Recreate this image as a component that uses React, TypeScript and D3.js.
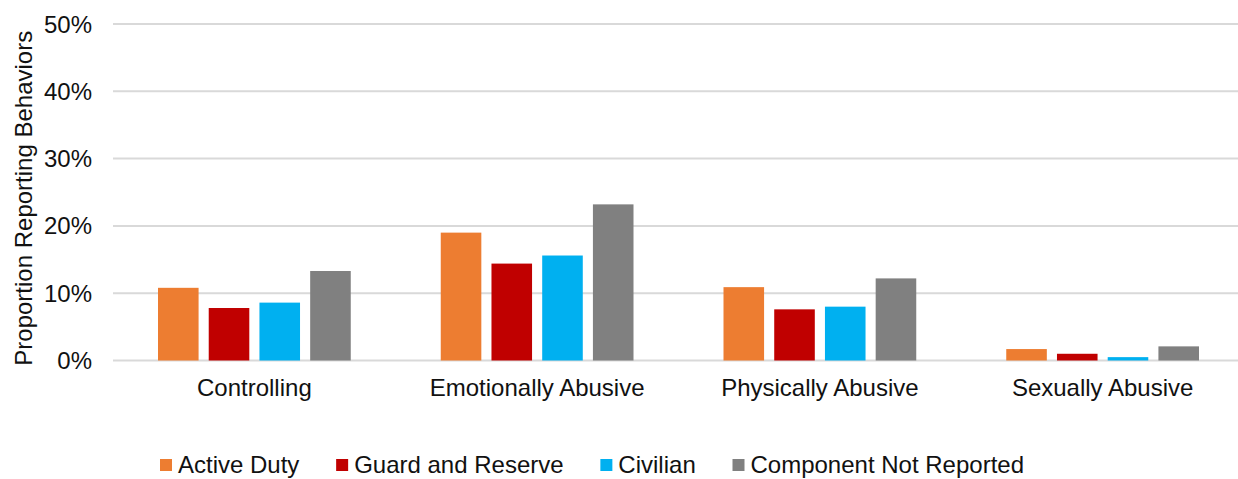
import React, { useEffect, useRef } from "react";
import * as d3 from "d3";

const categories = ["Controlling", "Emotionally Abusive", "Physically Abusive", "Sexually Abusive"];
const seriesNames = ["Active Duty", "Guard and Reserve", "Civilian", "Component Not Reported"];
const seriesColors = ["#ED7D31", "#C00000", "#00B0F0", "#808080"];
const activeDuty = [0.108, 0.190, 0.109, 0.017];
const guardReserve = [0.078, 0.144, 0.076, 0.010];
const civilian = [0.086, 0.156, 0.080, 0.005];
const notReported = [0.133, 0.232, 0.122, 0.021];
const yTicks = [0, 0.1, 0.2, 0.3, 0.4, 0.5];

const W = 1238;
const H = 479;
const FONT = "'Liberation Sans', Arial, sans-serif";

export default function App() {
  const ref = useRef<SVGSVGElement | null>(null);

  useEffect(() => {
    const svg = d3.select(ref.current!);
    svg.selectAll("*").remove();
    const seriesValues = [activeDuty, guardReserve, civilian, notReported];

    const left = 113;
    const right = 1244;
    const top = 24;
    const bottom = 360.5;

    const x0 = d3.scaleBand<string>().domain(categories).range([left, right]);
    const inset = 45;
    const x1 = d3
      .scaleBand<string>()
      .domain(seriesNames)
      .range([inset, x0.bandwidth() - inset])
      .paddingInner(0.2);
    const y = d3.scaleLinear().domain([0, 0.5]).range([bottom, top]);

    // gridlines
    svg
      .append("g")
      .selectAll("line")
      .data(yTicks)
      .join("line")
      .attr("x1", left)
      .attr("x2", right)
      .attr("y1", (d) => y(d))
      .attr("y2", (d) => y(d))
      .attr("stroke", "#d9d9d9")
      .attr("stroke-width", 2);

    // tick labels
    svg
      .append("g")
      .selectAll("text")
      .data(yTicks)
      .join("text")
      .attr("x", 92)
      .attr("y", (d) => y(d) + 8.5)
      .attr("text-anchor", "end")
      .attr("font-family", FONT)
      .attr("font-size", 24)
      .attr("fill", "#111")
      .text((d) => d3.format(".0%")(d));

    // bars
    const groups = svg
      .append("g")
      .selectAll("g")
      .data(categories)
      .join("g")
      .attr("transform", (c) => `translate(${x0(c)},0)`);

    groups
      .selectAll("rect")
      .data((c, i) => seriesNames.map((s, si) => ({ s, si, v: seriesValues[si][categories.indexOf(c)] })))
      .join("rect")
      .attr("x", (d) => x1(d.s)!)
      .attr("width", x1.bandwidth())
      .attr("y", (d) => y(d.v))
      .attr("height", (d) => y(0) - y(d.v))
      .attr("fill", (d) => seriesColors[d.si]);

    // category labels
    svg
      .append("g")
      .selectAll("text")
      .data(categories)
      .join("text")
      .attr("x", (c) => x0(c)! + x0.bandwidth() / 2)
      .attr("y", 396)
      .attr("text-anchor", "middle")
      .attr("font-family", FONT)
      .attr("font-size", 24)
      .attr("fill", "#111")
      .text((c) => c);

    // y-axis title
    svg
      .append("text")
      .attr("transform", `translate(32,${(top + bottom) / 2 + 6}) rotate(-90)`)
      .attr("text-anchor", "middle")
      .attr("font-family", FONT)
      .attr("font-size", 24)
      .attr("fill", "#111")
      .text("Proportion Reporting Behaviors");

    // legend
    const legend = svg.append("g");
    const items = legend
      .selectAll("g")
      .data(seriesNames)
      .join("g");
    items
      .append("rect")
      .attr("width", 12)
      .attr("height", 12)
      .attr("y", 459)
      .attr("fill", (_, i) => seriesColors[i]);
    const texts = items
      .append("text")
      .attr("x", 18)
      .attr("y", 473)
      .attr("font-family", FONT)
      .attr("font-size", 24)
      .attr("fill", "#111")
      .text((d) => d);
    const widths: number[] = [];
    texts.each(function () {
      widths.push((this as SVGTextElement).getComputedTextLength());
    });
    const startX = 160;
    const endX = 1024;
    const totalItems = widths.reduce((a, w) => a + 18 + w, 0);
    const gap = (endX - startX - totalItems) / (seriesNames.length - 1);
    let cx = startX;
    items.attr("transform", (_, i) => {
      const t = `translate(${cx},0)`;
      cx += 18 + widths[i] + gap;
      return t;
    });
  }, []);

  return (
    <svg
      ref={ref}
      width={W}
      height={H}
      style={{ position: "absolute", left: 0, top: 0, background: "#fff" }}
    />
  );
}
